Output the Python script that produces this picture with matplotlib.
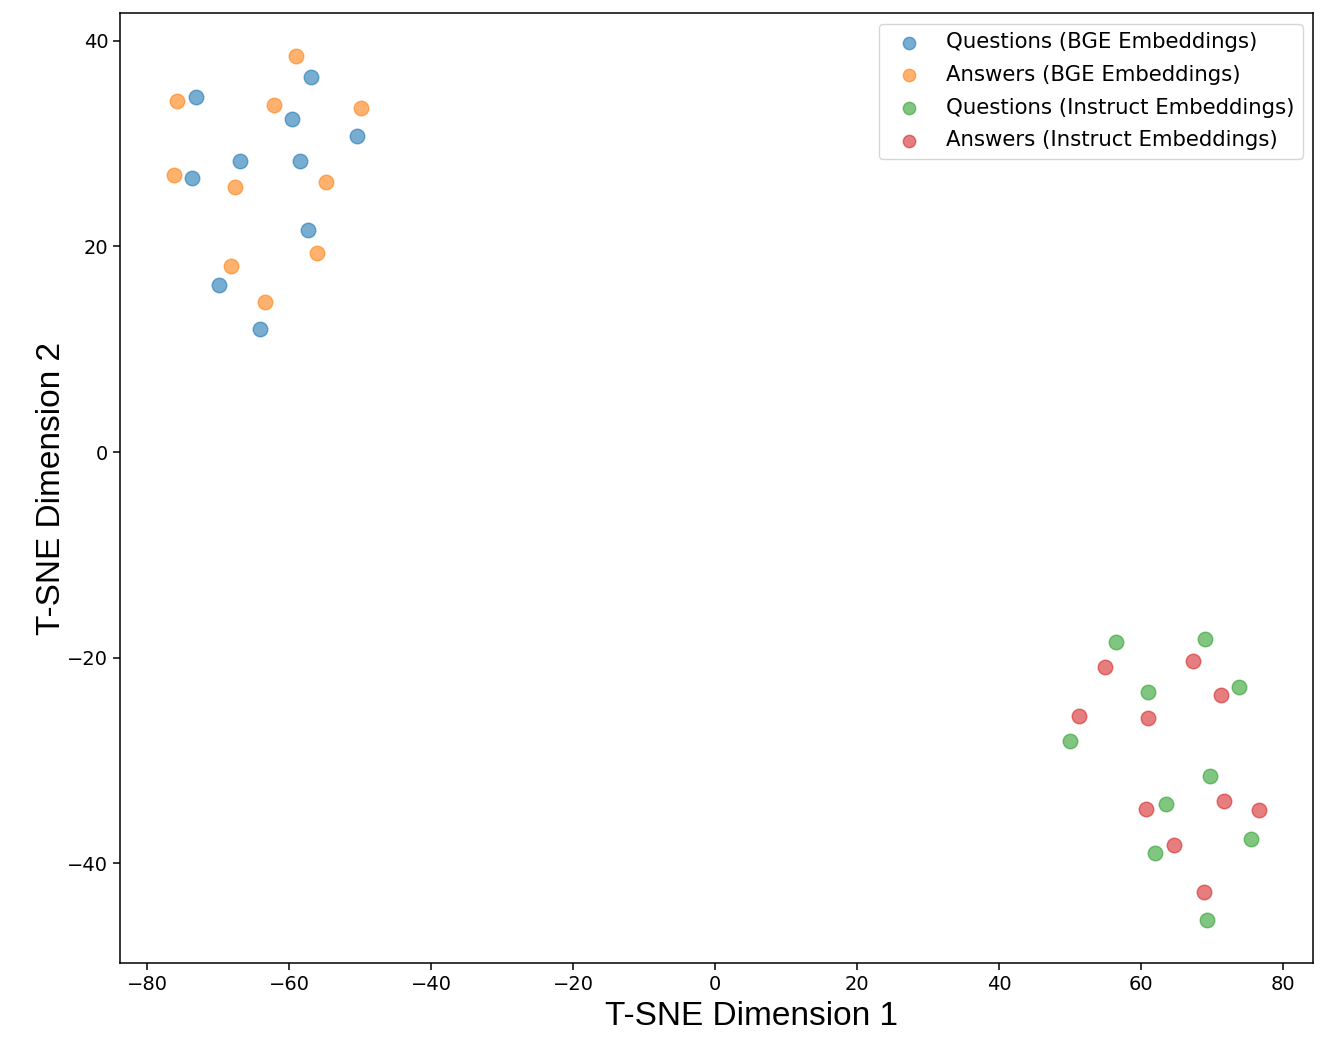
import matplotlib.pyplot as plt

# t-SNE coordinates
q_bge_x = [-73.1, -57.0, -59.6, -50.4, -73.7, -66.9, -58.5, -57.3, -69.9, -64.1]
q_bge_y = [34.55, 36.5, 32.4, 30.75, 26.7, 28.3, 28.3, 21.6, 16.2, 12.0]

a_bge_x = [-75.8, -59.0, -62.1, -49.9, -76.2, -67.6, -54.9, -56.1, -68.2, -63.4]
a_bge_y = [34.1, 38.5, 33.8, 33.5, 26.9, 25.8, 26.3, 19.4, 18.1, 14.6]

q_ins_x = [56.5, 69.0, 61.0, 73.8, 50.0, 69.7, 63.5, 75.4, 62.0, 69.3]
q_ins_y = [-18.5, -18.2, -23.3, -22.9, -28.1, -31.5, -34.2, -37.6, -39.0, -45.5]

a_ins_x = [54.9, 67.3, 71.3, 51.3, 61.0, 60.6, 71.7, 76.6, 64.6, 68.9]
a_ins_y = [-20.9, -20.3, -23.6, -25.7, -25.9, -34.7, -33.9, -34.8, -38.2, -42.8]

series = [
    (q_bge_x, q_bge_y, "Questions (BGE Embeddings)"),
    (a_bge_x, a_bge_y, "Answers (BGE Embeddings)"),
    (q_ins_x, q_ins_y, "Questions (Instruct Embeddings)"),
    (a_ins_x, a_ins_y, "Answers (Instruct Embeddings)"),
]

fig = plt.figure(figsize=(13.37, 10.44), dpi=100)
ax = fig.add_axes([0.0898, 0.0776, 0.8925, 0.9099])

for xs, ys, label in series:
    ax.scatter(xs, ys, s=110, alpha=0.6, label=label)

ax.set_xticks([-80, -60, -40, -20, 0, 20, 40, 60, 80])
ax.set_yticks([-40, -20, 0, 20, 40])
ax.tick_params(labelsize=14, length=5, width=1.1)
for sp in ax.spines.values():
    sp.set_linewidth(1.1)

ax.set_xlabel("T-SNE Dimension 1", fontsize=24, family="Liberation Sans")
ax.xaxis.set_label_coords(0.529, -0.04, transform=ax.transAxes)
ax.xaxis.label.set_va("top")
ax.set_ylabel("T-SNE Dimension 2", fontsize=24, family="Liberation Sans", labelpad=0)

ax.legend(loc="upper right", fontsize=15.3, labelspacing=0.6, markerscale=0.85,
          handletextpad=0.75, borderaxespad=0.5)

fig.savefig("out.png", dpi=100)
